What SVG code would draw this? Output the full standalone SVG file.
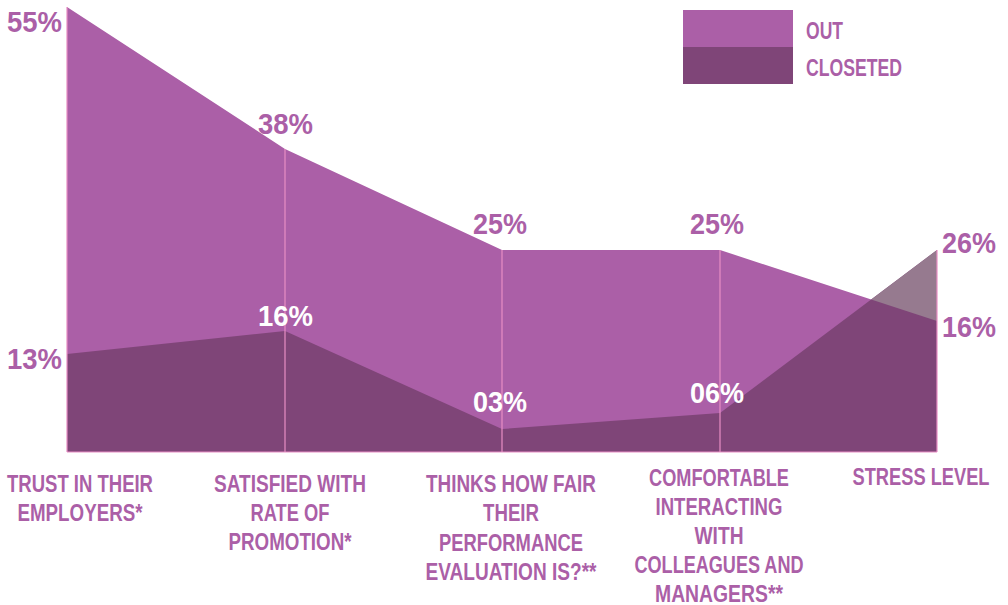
<svg xmlns="http://www.w3.org/2000/svg" width="1008" height="605" viewBox="0 0 1008 605">
<style>
text{font-family:"Liberation Sans",Arial,sans-serif;font-weight:bold}
.pct{font-size:30px;fill:#AB5FA7}
.pctw{font-size:30px;fill:#FFFFFF}
.cat{font-size:23px;fill:#AB5FA7}
.leg{font-size:23px;fill:#AB5FA7}
.grid{stroke:#E88EC4;stroke-width:1.2;fill:none}
</style>
<rect width="1008" height="605" fill="#FFFFFF"/>
<g id="areas">
<polygon id="out-area" points="67,7 285,149 502,250 720,250 937,321 937,452 67,452" fill="#AB5FA7"/>
<polygon id="closeted-area" points="67,354 285,331 502,429 720,413 937,250 937,452 67,452" fill="#7F4578"/>
<polygon id="closeted-overlap" points="871.2,299.5 937,250 937,321" fill="#967A8F"/>
</g>
<g id="connectors">
<line class="grid" x1="67" y1="7" x2="67" y2="452"/>
<line class="grid" x1="285" y1="149" x2="285" y2="452"/>
<line class="grid" x1="502" y1="250" x2="502" y2="452"/>
<line class="grid" x1="720" y1="250" x2="720" y2="452"/>
<line class="grid" x1="937" y1="250" x2="937" y2="452"/>
<line class="grid" x1="67" y1="452" x2="937" y2="452"/>
</g>
<g id="legend">
<rect x="683" y="10" width="110" height="37" fill="#AB5FA7"/>
<rect x="683" y="47" width="110" height="37" fill="#7F4578"/>
<text class="leg" x="806" y="39" textLength="37" lengthAdjust="spacingAndGlyphs">OUT</text>
<text class="leg" x="806" y="76" textLength="96" lengthAdjust="spacingAndGlyphs">CLOSETED</text>
</g>
<g id="out-values">
<text class="pct" x="7" y="32" textLength="55" lengthAdjust="spacingAndGlyphs">55%</text>
<text class="pct" x="258" y="134" textLength="55" lengthAdjust="spacingAndGlyphs">38%</text>
<text class="pct" x="473" y="234" textLength="54" lengthAdjust="spacingAndGlyphs">25%</text>
<text class="pct" x="690" y="234" textLength="54" lengthAdjust="spacingAndGlyphs">25%</text>
<text class="pct" x="942" y="337" textLength="54" lengthAdjust="spacingAndGlyphs">16%</text>
</g>
<g id="closeted-values">
<text class="pct" x="7" y="369" textLength="55" lengthAdjust="spacingAndGlyphs">13%</text>
<text class="pctw" x="258" y="326" textLength="55" lengthAdjust="spacingAndGlyphs">16%</text>
<text class="pctw" x="473" y="412" textLength="54" lengthAdjust="spacingAndGlyphs">03%</text>
<text class="pctw" x="690" y="403" textLength="54" lengthAdjust="spacingAndGlyphs">06%</text>
<text class="pct" x="942" y="253" textLength="54" lengthAdjust="spacingAndGlyphs">26%</text>
</g>
<g id="cat-trust" text-anchor="middle">
<text class="cat" x="80" y="492" textLength="146" lengthAdjust="spacingAndGlyphs">TRUST IN THEIR</text>
<text class="cat" x="80" y="521" textLength="125" lengthAdjust="spacingAndGlyphs">EMPLOYERS*</text>
</g>
<g id="cat-satisfied" text-anchor="middle">
<text class="cat" x="290" y="492" textLength="152" lengthAdjust="spacingAndGlyphs">SATISFIED WITH</text>
<text class="cat" x="290" y="521" textLength="79" lengthAdjust="spacingAndGlyphs">RATE OF</text>
<text class="cat" x="290" y="550" textLength="123" lengthAdjust="spacingAndGlyphs">PROMOTION*</text>
</g>
<g id="cat-fair" text-anchor="middle">
<text class="cat" x="511" y="492" textLength="170" lengthAdjust="spacingAndGlyphs">THINKS HOW FAIR</text>
<text class="cat" x="511" y="521" textLength="56" lengthAdjust="spacingAndGlyphs">THEIR</text>
<text class="cat" x="511" y="551" textLength="144" lengthAdjust="spacingAndGlyphs">PERFORMANCE</text>
<text class="cat" x="511" y="580" textLength="171" lengthAdjust="spacingAndGlyphs">EVALUATION IS?**</text>
</g>
<g id="cat-comfortable" text-anchor="middle">
<text class="cat" x="719" y="486" textLength="140" lengthAdjust="spacingAndGlyphs">COMFORTABLE</text>
<text class="cat" x="719" y="515" textLength="127" lengthAdjust="spacingAndGlyphs">INTERACTING</text>
<text class="cat" x="719" y="544" textLength="49" lengthAdjust="spacingAndGlyphs">WITH</text>
<text class="cat" x="719" y="573" textLength="169" lengthAdjust="spacingAndGlyphs">COLLEAGUES AND</text>
<text class="cat" x="719" y="602" textLength="128" lengthAdjust="spacingAndGlyphs">MANAGERS**</text>
</g>
<g id="cat-stress" text-anchor="middle">
<text class="cat" x="921" y="485" textLength="137" lengthAdjust="spacingAndGlyphs">STRESS LEVEL</text>
</g>
</svg>
